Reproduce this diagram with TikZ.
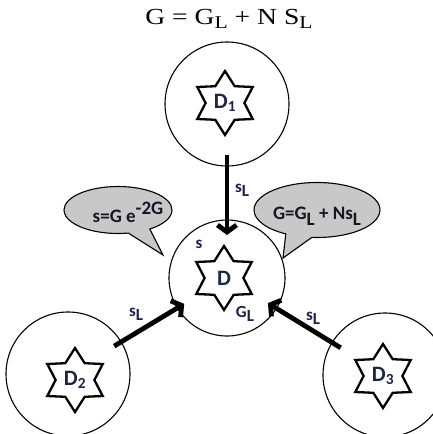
\documentclass[tikz,border=0pt]{standalone}
\usepackage{fontspec}
\setmainfont{Liberation Serif}
\newfontfamily\calib{Carlito}
\usetikzlibrary{shapes.geometric,shapes.callouts,arrows.meta,calc}
\definecolor{bubblegray}{RGB}{200,200,200}
\definecolor{dnavy}{RGB}{28,36,72}
\definecolor{inkdark}{RGB}{22,22,36}

\begin{document}
\begin{tikzpicture}[x=1pt,y=-1pt,
  site/.style={circle, draw, line width=1.1pt, minimum size=#1, inner sep=0pt},
  hexstar/.style={star, star points=6, star point ratio=1.65, draw, line width=2.3pt,
    fill=white, minimum size=64pt, inner sep=0pt,
    font=\calib\bfseries\fontsize{22}{22}\selectfont, text=dnavy},
  flow/.style={line width=4.8pt, -{Straight Barb[length=7pt,width=19pt]}},
  flowlabel/.style={font=\calib\bfseries\fontsize{17}{17}\selectfont, text=dnavy, inner sep=0pt},
  bubble/.style={ellipse callout, draw, line width=1.1pt, fill=bubblegray,
    inner sep=0pt, callout pointer arc=25},
  bubbletext/.style={font=\calib\bfseries\fontsize{19}{19}\selectfont, text=inkdark, inner sep=0pt}
]
\useasboundingbox (0,0) rectangle (433,434);
\fill[white] (0,0) rectangle (433,434);

% title formula
\node (title) at (229,19) {\fontsize{23}{23}\selectfont\scalebox{1.2}[1]{G = G\raisebox{-4pt}{\fontsize{18}{18}\selectfont L} + N S\raisebox{-4pt}{\fontsize{18}{18}\selectfont L}}};

% speech bubbles
\node[bubble, minimum width=108pt, minimum height=47pt,
      callout absolute pointer={(163,255)}] (bubL) at (118,210) {};
\node[bubbletext] (txtL) at (128,212) {s=G e\raisebox{8pt}{-2G}};
\node[bubble, minimum width=126pt, minimum height=55pt,
      callout absolute pointer={(283,258)}] (bubR) at (317,210) {};
\node[bubbletext] (txtR) at (317,216) {G=G\raisebox{-6pt}{L} + Ns\raisebox{-6pt}{L}};

% domains
\node[site=124pt] (c1) at (227,104) {};
\node[site=116pt] (c0) at (227,278) {};
\node[site=124pt] (c2) at (68,374) {};
\node[site=124pt] (c3) at (385,375) {};

\node[hexstar] (d1) at (225,103) {D\textsubscript{1}};
\node[hexstar] (d0) at (224,278) {D};
\node[hexstar] (d2) at (75,380) {D\textsubscript{2}};
\node[hexstar] (d3) at (383,376) {D\textsubscript{3}};

% flows into the central domain
\draw[flow] ($(c1.center)!51pt!(c0.center)$) -- ($(c0.center)!43pt!(c1.center)$);
\draw[flow] ($(c2.center)!54pt!(c0.center)$) -- ($(c0.center)!50pt!(c2.center)$);
\draw[flow] ($(c3.center)!52pt!(c0.center)$) -- ($(c0.center)!48pt!(c3.center)$);

\node[flowlabel] (l1) at (242,190) {s\raisebox{-4pt}{L}};
\node[flowlabel] (l2) at (136,314) {s\raisebox{-4pt}{L}};
\node[flowlabel] (l3) at (313,318) {s\raisebox{-4pt}{L}};

% labels inside the central domain
\node[flowlabel] (sIn) at (199,244) {s};
\node[flowlabel] (gOut) at (245,314) {G\raisebox{-4pt}{L}};
\end{tikzpicture}
\end{document}
